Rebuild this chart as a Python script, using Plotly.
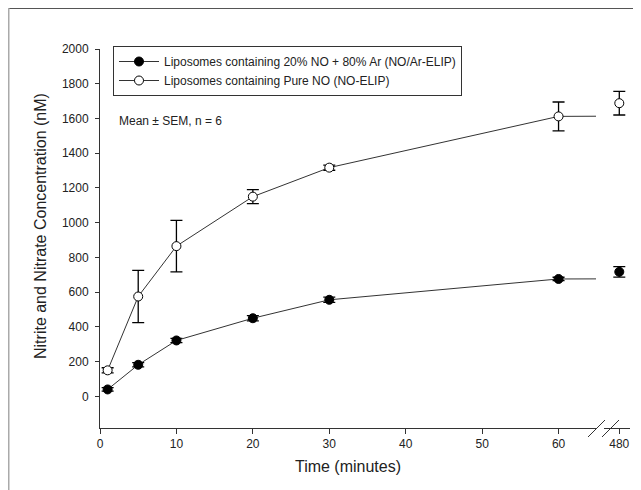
import plotly.graph_objects as go

# ---- data ----
times = [1, 5, 10, 20, 30, 60, 480]
ar_mean = [40, 182, 322, 450, 556, 676, 717]
ar_sem = [10, 12, 12, 15, 15, 10, 30]
pure_mean = [150, 575, 865, 1150, 1317, 1612, 1688]
pure_sem = [15, 150, 148, 40, 15, 83, 68]
x_ticks_main = [0, 10, 20, 30, 40, 50, 60]
x_ticks_break = [480]
y_ticks = [0, 200, 400, 600, 800, 1000, 1200, 1400, 1600, 1800, 2000]
series_names = ["Liposomes containing 20% NO + 80% Ar (NO/Ar-ELIP)",
                "Liposomes containing Pure NO (NO-ELIP)"]

FONT = "Liberation Sans, Arial, sans-serif"
OFF = 8  # page body margin offset
W, H = 641 - OFF, 490 - OFF
# target page-pixel geometry of the plot area
PL, PR, PT, PB = 100, 630, 49, 428
ML, MR, MT, MB = PL - OFF, 641 - PR, PT - OFF, 490 - PB
PW, PH = PR - PL, PB - PT


def px_x(p):
    return (p - PL) / PW


def px_y(p):
    return (PB - p) / PH


d1_end = px_x(596)
d2_start = px_x(604)

fig = go.Figure()

series = [
    (ar_mean, ar_sem, "black", series_names[0]),
    (pure_mean, pure_sem, "white", series_names[1]),
]
for means, sems, fill, name in series:
    fig.add_trace(go.Scatter(
        x=times, y=means, name=name, mode="lines+markers",
        line=dict(color="#333333", width=1),
        marker=dict(symbol="circle", size=9, color=fill,
                    line=dict(color="black", width=1)),
        error_y=dict(type="data", array=sems, color="black",
                     thickness=1.3, width=6),
        xaxis="x", yaxis="y",
    ))
for means, sems, fill, name in series:
    fig.add_trace(go.Scatter(
        x=times, y=means, name=name, mode="markers", showlegend=False,
        marker=dict(symbol="circle", size=9, color=fill,
                    line=dict(color="black", width=1)),
        error_y=dict(type="data", array=sems, color="black",
                     thickness=1.3, width=6),
        xaxis="x2", yaxis="y",
    ))

axis_common = dict(showline=True, linecolor="#333333", linewidth=1,
                   ticks="outside", tickcolor="#333333",
                   showgrid=False, zeroline=False,
                   tickfont=dict(family=FONT, size=12, color="#222222"))

fig.update_layout(
    width=W, height=H,
    margin=dict(l=ML, r=MR, t=MT, b=MB, autoexpand=False),
    paper_bgcolor="white", plot_bgcolor="white",
    font=dict(family=FONT, size=12, color="#222222"),
    xaxis=dict(domain=[0, d1_end], range=[0, 64.9], tickvals=x_ticks_main,
               anchor="y", ticklen=5,
               title=dict(text="Time (minutes)", font=dict(size=16), standoff=10),
               **axis_common),
    xaxis2=dict(domain=[d2_start, 1], range=[478.0, 481.4], ticklen=5,
                tickvals=x_ticks_break, anchor="y", **axis_common),
    yaxis=dict(range=[-182, 2000], tickvals=y_ticks, anchor="x",
               ticklen=4, ticklabelstandoff=4, **axis_common),
    showlegend=True,
    legend=dict(x=px_x(113), y=px_y(46), xanchor="left", yanchor="top",
                bordercolor="#333333", borderwidth=1, bgcolor="white",
                font=dict(family=FONT, size=12, color="#222222"),
                itemwidth=40, tracegroupgap=0),
)

# y-axis title as annotation for exact placement
fig.add_annotation(text="Nitrite and Nitrate Concentration (nM)",
                   xref="paper", yref="paper", x=px_x(40), y=px_y(226),
                   xanchor="center", yanchor="middle",
                   textangle=-90, showarrow=False,
                   font=dict(family=FONT, size=16, color="#222222"))

fig.add_annotation(text="Mean \u00b1 SEM, n = 6", xref="paper", yref="paper",
                   x=px_x(117), y=px_y(121), xanchor="left", yanchor="middle",
                   showarrow=False,
                   font=dict(family=FONT, size=12, color="#222222"))

# axis break marks
for x0 in (588, 602):
    fig.add_shape(type="line", xref="paper", yref="paper",
                  x0=px_x(x0), y0=px_y(437), x1=px_x(x0 + 17), y1=px_y(420),
                  line=dict(color="#333333", width=1))

# figure frame (left and top)
fig.add_shape(type="line", xref="paper", yref="paper",
              x0=px_x(8.5), y0=px_y(8), x1=px_x(660), y1=px_y(8),
              line=dict(color="#555555", width=2))
fig.add_shape(type="line", xref="paper", yref="paper",
              x0=px_x(8.5), y0=px_y(8), x1=px_x(8.5), y1=px_y(500),
              line=dict(color="#aaaaaa", width=2))

fig.write_html("out.html")
